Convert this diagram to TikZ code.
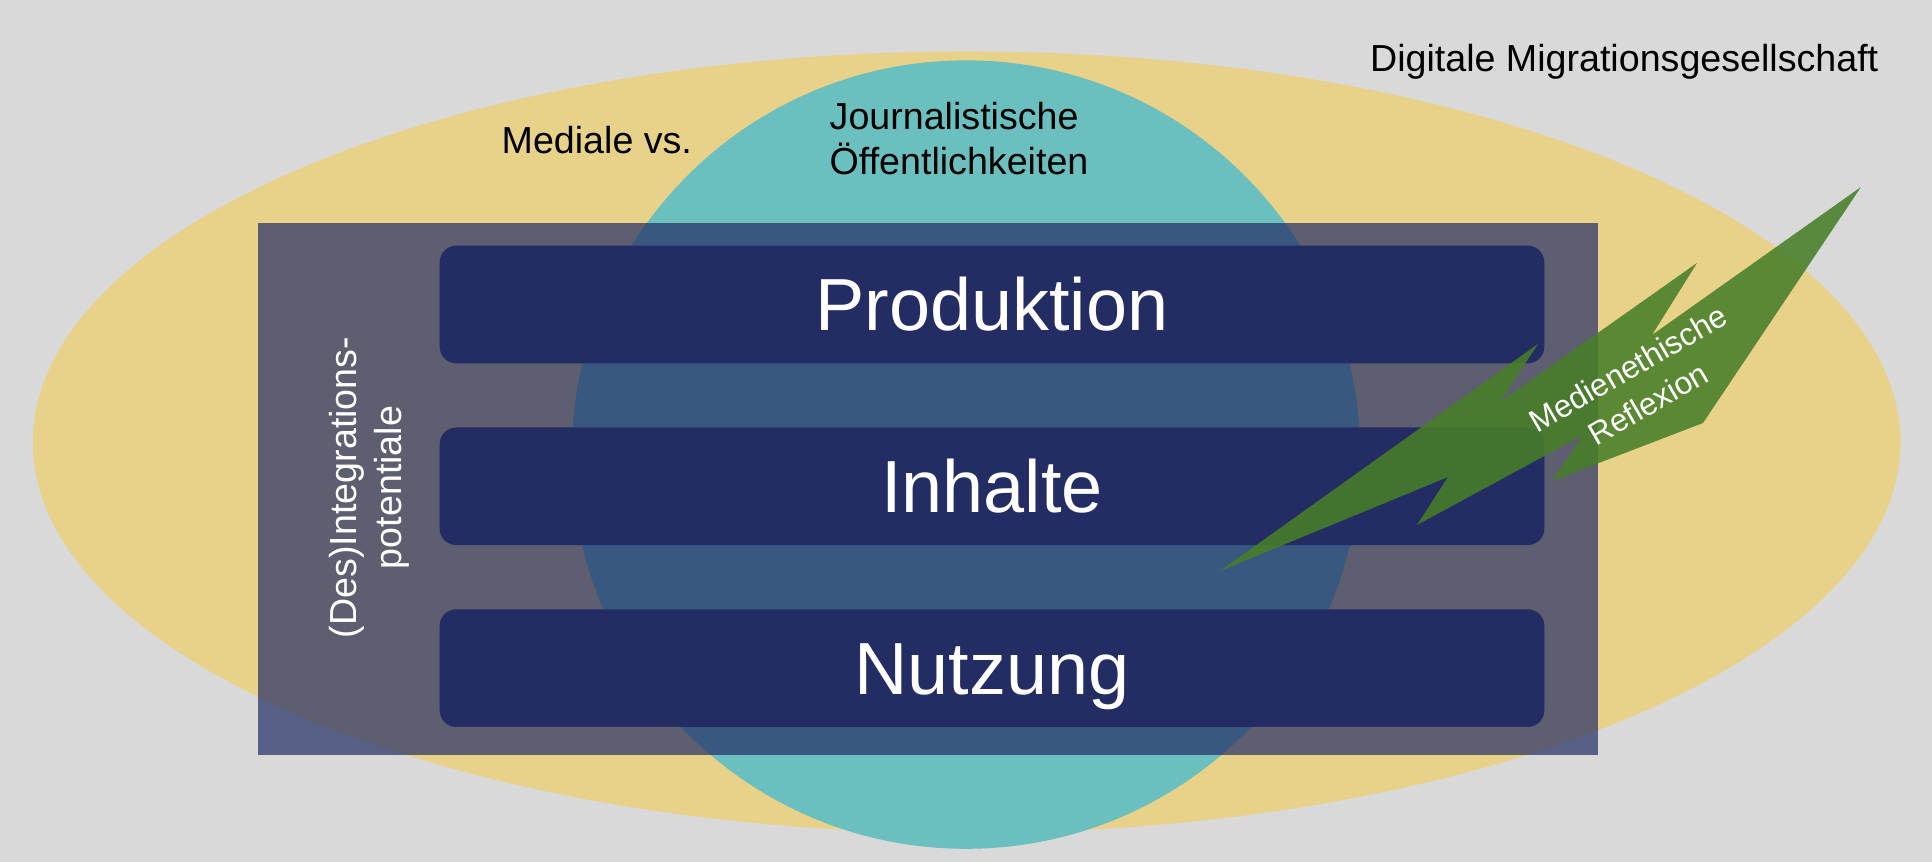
\documentclass[tikz,border=0pt]{standalone}
\usepackage{fontspec}
\setmainfont{Liberation Sans}
\usetikzlibrary{positioning}

\definecolor{bggray}{RGB}{217,217,217}
\definecolor{sand}{RGB}{232,210,138}
\definecolor{publicteal}{RGB}{108,191,191}
\definecolor{navy}{RGB}{35,45,100}
\definecolor{boltgreen}{RGB}{72,126,40}

\tikzset{
  bar/.style={fill=navy, rounded corners=4.7pt, minimum width=11.04cm, minimum height=1.176cm,
    inner sep=0pt, text=white, font=\fontsize{21}{25}\selectfont, text height=15pt, text depth=0pt},
  smalltext/.style={inner sep=0pt, font=\fontsize{10.7}{12.8}\selectfont}
}

\begin{document}
\begin{tikzpicture}[x=0.01cm,y=-0.01cm]
\def\society{(966.6,442.3) ellipse (9.333cm and 3.906cm)}
\def\publics{(966,454.6) circle (3.94cm)}
\def\frame{(257.5,223) rectangle (1598,755)}

\useasboundingbox (0,0) rectangle (1932,862);
\fill[bggray] (0,0) rectangle (1932,862);

\fill[sand] \society;
\fill[publicteal] \publics;
\fill[navy, opacity=.7] \frame; % (Des)Integrationspotentiale

\node[bar] (prod) at (992,304.5) {Produktion};
\node[bar, below=0.627cm of prod] (inh) {Inhalte};
\node[bar, below=0.627cm of inh] (nutz) {Nutzung};

% Blitz
\fill[boltgreen, opacity=.88] (1861,187) -- (1703,423) -- (1552,481) -- (1583,435)
  -- (1417,525) -- (1448,477) -- (1220,571) -- (1538,344) -- (1500,402)
  -- (1697,263) -- (1652,335) -- cycle;

\node[smalltext, anchor=base east] (dms) at (1879,71.5) {Digitale Migrationsgesellschaft};
\node[smalltext, anchor=base west] (med) at (501,153.3) {Mediale vs.};
\node[smalltext, anchor=base west, align=left] (jour) at (829,175) {Journalistische\\Öffentlichkeiten};
\node[smalltext, text=white, rotate=90, align=center] (pot) at (369,487.5) {(Des)Integrations-\\potentiale};
\node[text=white, rotate=30, align=center, inner sep=0pt,
  font=\fontsize{9}{11.5}\selectfont] (refl) at (1638,386) {Medienethische\\Reflexion};
\end{tikzpicture}
\end{document}
